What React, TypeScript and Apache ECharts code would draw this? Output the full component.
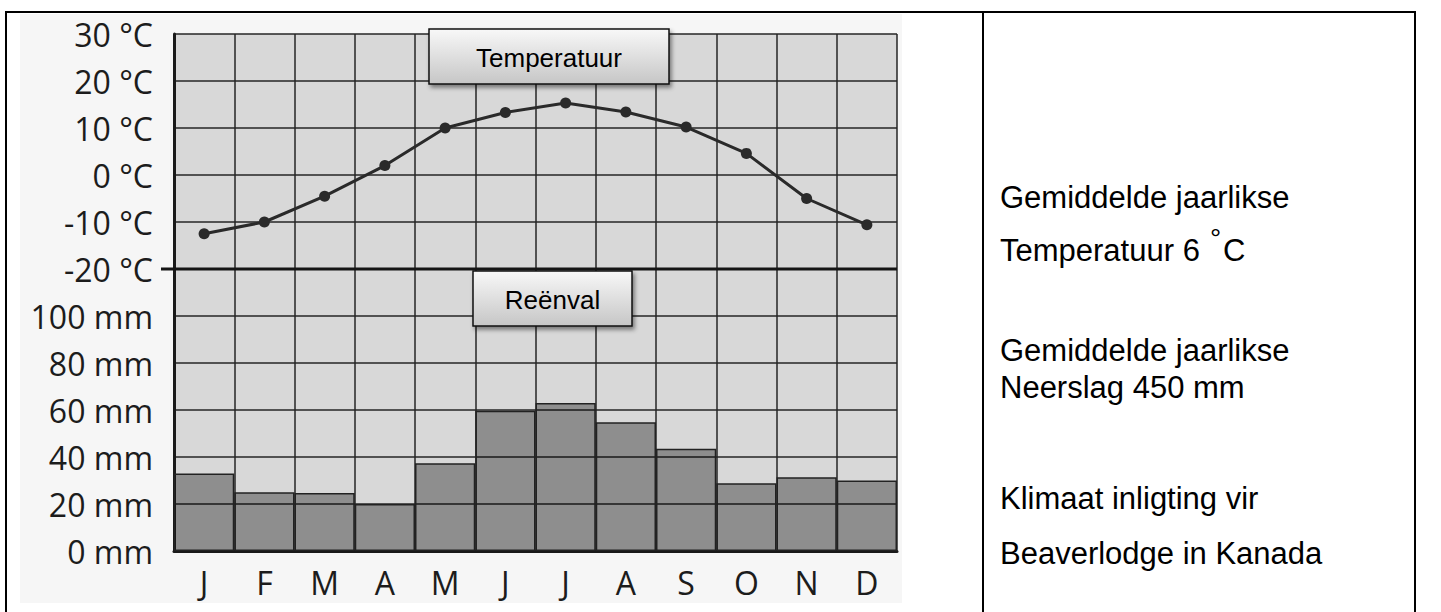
import React, { useEffect, useRef } from "react";
import * as echarts from "echarts";

// ---- data ----
const months = ["J", "F", "M", "A", "M", "J", "J", "A", "S", "O", "N", "D"];
const temperature = [-12.5, -10, -4.5, 2, 10, 13.3, 15.3, 13.4, 10.2, 4.6, -5, -10.6];
const rainfall = [33, 25, 24.7, 20, 37.3, 59.7, 63, 54.8, 43.5, 28.8, 31.4, 30];
const tempMin = -20, tempMax = 30, tempStep = 10;
const rainMin = 0, rainMax = 120, rainStep = 20;
const infoLines = [
  "Gemiddelde jaarlikse",
  "Temperatuur 6 ",
  "Gemiddelde jaarlikse",
  "Neerslag 450 mm",
  "Klimaat inligting vir",
  "Beaverlodge in Kanada",
];

// ---- layout ----
const L = 174, R = 897, T = 34, MID = 269, B = 551;
const INFO_Y = [197.5, 250, 350, 387.5, 498, 553.5];
const axisFont = '"Open Sans", sans-serif';
const arial = '"Liberation Sans", Arial, sans-serif';
const ink = "#1c1c1c";

function labelBox(x: number, y: number, w: number, h: number, text: string) {
  return {
    type: "group",
    z: 100,
    children: [
      {
        type: "rect",
        z: 100,
        shape: { x, y, width: w, height: h },
        style: {
          fill: new echarts.graphic.LinearGradient(0, 0, 0, 1, [
            { offset: 0, color: "#f8f8f8" },
            { offset: 1, color: "#c6c6c6" },
          ]),
          stroke: "#111",
          lineWidth: 1.5,
          shadowBlur: 4,
          shadowOffsetX: 2,
          shadowOffsetY: 3,
          shadowColor: "rgba(0,0,0,0.45)",
        },
      },
      {
        type: "text",
        z: 101,
        x: x + w / 2,
        y: y + h / 2 + 1,
        style: {
          text,
          fill: "#000",
          font: `26px ${arial}`,
          align: "center",
          verticalAlign: "middle",
        },
      },
    ],
  };
}

export default function App() {
  const ref = useRef<HTMLDivElement>(null);
  useEffect(() => {
    if (!ref.current) return;
    const chart = echarts.init(ref.current, undefined, { renderer: "svg" });
    const splitStyle = { color: "#262626", width: 1.5 };
    const option: any = {
      animation: false,
      backgroundColor: "#fff",
      grid: [
        { left: L, top: T, width: R - L, height: MID - T, show: true, backgroundColor: "#d8d8d8", borderWidth: 0 },
        { left: L, top: MID, width: R - L, height: B - MID, show: true, backgroundColor: "#d8d8d8", borderWidth: 0 },
      ],
      xAxis: [
        {
          gridIndex: 0,
          type: "category",
          data: months,
          axisLabel: { show: false },
          axisTick: { show: false },
          axisLine: { show: false },
          splitLine: { show: true, interval: 0, lineStyle: splitStyle },
        },
        {
          gridIndex: 1,
          type: "category",
          data: months,
          axisTick: { show: false },
          axisLine: { show: true, lineStyle: { color: "#1a1a1a", width: 3 } },
          axisLabel: { fontFamily: axisFont, fontSize: 32, color: ink, margin: 15, interval: 0 },
          splitLine: { show: true, interval: 0, lineStyle: splitStyle },
        },
      ],
      yAxis: [
        {
          gridIndex: 0,
          type: "value",
          min: tempMin,
          max: tempMax,
          interval: tempStep,
          axisTick: { show: false },
          axisLine: { show: true, lineStyle: { color: "#1a1a1a", width: 3 } },
          axisLabel: {
            fontFamily: axisFont,
            fontSize: 32,
            color: ink,
            margin: 21,
            formatter: (v: number) => `${v} °C`,
          },
          splitLine: { show: true, lineStyle: splitStyle },
        },
        {
          gridIndex: 1,
          type: "value",
          min: rainMin,
          max: rainMax,
          interval: rainStep,
          axisTick: { show: false },
          axisLine: { show: true, lineStyle: { color: "#1a1a1a", width: 3 } },
          axisLabel: {
            fontFamily: axisFont,
            fontSize: 32,
            color: ink,
            margin: 21,
            formatter: (v: number) => (v === rainMax ? "" : `${v} mm`),
          },
          splitLine: { show: true, lineStyle: splitStyle },
        },
      ],
      series: [
        {
          type: "bar",
          xAxisIndex: 1,
          yAxisIndex: 1,
          data: rainfall,
          barCategoryGap: "0%",
          itemStyle: { color: "rgba(0,0,0,0.34)", borderColor: "#222", borderWidth: 1.5 },
          z: 3,
        },
        {
          type: "line",
          xAxisIndex: 0,
          yAxisIndex: 0,
          data: temperature,
          symbol: "circle",
          symbolSize: 11,
          lineStyle: { color: "#2a2a2a", width: 3 },
          itemStyle: { color: "#2a2a2a" },
          z: 5,
        },
      ],
      graphic: [
        { type: "rect", z: -10, shape: { x: 20, y: 14, width: 882, height: 589 }, style: { fill: "#f6f6f6" } },
        // table borders
        { type: "line", z: 60, shape: { x1: 6, y1: 12, x2: 1416, y2: 12 }, style: { stroke: "#000", lineWidth: 2 } },
        { type: "line", z: 60, shape: { x1: 6, y1: 11, x2: 6, y2: 612 }, style: { stroke: "#000", lineWidth: 2 } },
        { type: "line", z: 60, shape: { x1: 983, y1: 11, x2: 983, y2: 612 }, style: { stroke: "#000", lineWidth: 2 } },
        { type: "line", z: 60, shape: { x1: 1415, y1: 11, x2: 1415, y2: 612 }, style: { stroke: "#000", lineWidth: 2 } },
        // divider between temperature and rainfall parts
        { type: "line", z: 50, shape: { x1: 161, y1: MID, x2: R, y2: MID }, style: { stroke: "#151515", lineWidth: 3 } },
        labelBox(429, 29, 240, 55, "Temperatuur"),
        labelBox(473, 271, 159, 55, "Reënval"),
        ...infoLines.map((t, i) => ({
          type: "text",
          z: 60,
          x: 1000,
          y: INFO_Y[i],
          style: { text: t, fill: "#000", font: `31px ${arial}`, align: "left", verticalAlign: "middle" },
        })),
        {
          type: "text",
          z: 60,
          x: 1210,
          y: INFO_Y[1] - 12,
          style: { text: "°", fill: "#000", font: `28px ${arial}`, align: "left", verticalAlign: "middle" },
        },
        {
          type: "text",
          z: 60,
          x: 1223,
          y: INFO_Y[1],
          style: { text: "C", fill: "#000", font: `31px ${arial}`, align: "left", verticalAlign: "middle" },
        },
      ],
    };
    chart.setOption(option);
    return () => chart.dispose();
  }, []);
  return (
    <div
      ref={ref}
      style={{ position: "fixed", left: 0, top: 0, width: 1441, height: 612, background: "#fff" }}
    />
  );
}
